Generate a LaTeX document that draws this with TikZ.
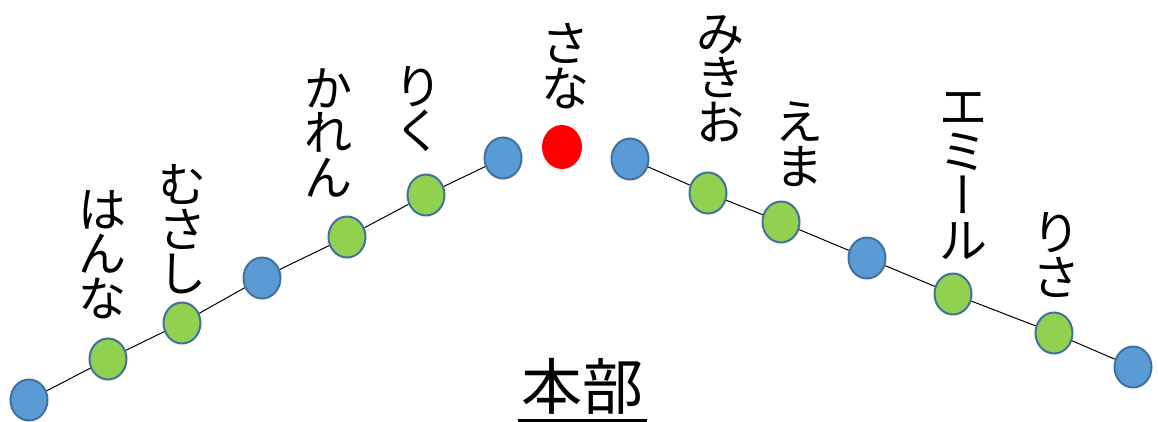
\documentclass[tikz,border=0pt]{standalone}
\usepackage{fontspec}
\usetikzlibrary{shapes.geometric}
\newfontfamily\jp{Noto Sans CJK JP}
\newfontfamily\jpvert{Noto Sans CJK JP}[RawFeature=+vert]
\definecolor{dotblue}{HTML}{5B9BD5}
\definecolor{dotgreen}{HTML}{92D050}
\definecolor{dotedge}{HTML}{41719C}
\definecolor{dotred}{HTML}{FF0000}
\newcommand{\vbar}{{\jpvert ー}}
\tikzset{
  dot/.style={ellipse, minimum width=37, minimum height=41, inner sep=0, draw=dotedge, line width=2},
  bdot/.style={dot, fill=dotblue},
  gdot/.style={dot, fill=dotgreen},
  rdot/.style={ellipse, minimum width=40, minimum height=44, inner sep=0, fill=dotred},
  track/.style={draw=black, line width=1},
  vlabel/.style={inner sep=0, align=center, font=\jp\fontsize{48}{44.5}\selectfont},
  hqlabel/.style={inner sep=0, font=\jp\fontsize{61}{61}\selectfont},
}
\begin{document}
\begin{tikzpicture}[x=1pt,y=-1pt]
\useasboundingbox (0,0) rectangle (1158,421);
% left line
\node[bdot] (L1) at (29,400) {};
\node[gdot] (L2) at (108,359) {};
\node[gdot] (L3) at (182,323) {};
\node[bdot] (L4) at (262,278) {};
\node[gdot] (L5) at (347,237) {};
\node[gdot] (L6) at (426,195) {};
\node[bdot] (L7) at (503,158) {};
% centre
\node[rdot] (C) at (562,147) {};
% right line
\node[bdot] (R1) at (630,159) {};
\node[gdot] (R2) at (708,193) {};
\node[gdot] (R3) at (781,222) {};
\node[bdot] (R4) at (867,258) {};
\node[gdot] (R5) at (953,294) {};
\node[gdot] (R6) at (1054,333) {};
\node[bdot] (R7) at (1133,367) {};
\draw[track] (L1) -- (L2) -- (L3) -- (L4) -- (L5) -- (L6) -- (L7);
\draw[track] (R1) -- (R2) -- (R3) -- (R4) -- (R5) -- (R6) -- (R7);
% labels
\node[vlabel] (t1) at (102,254.5) {は\\ん\\な};
\node[vlabel] (t2) at (182,229.5) {む\\さ\\し};
\node[vlabel] (t3) at (328,132.5) {か\\れ\\ん};
\node[vlabel] (t4) at (418,109) {り\\く};
\node[vlabel] (t5) at (565,66) {さ\\な};
\node[vlabel] (t6) at (720,78.5) {み\\き\\お};
\node[vlabel] (t7) at (799,144) {え\\ま};
\node[vlabel] (t8) at (963,176) {エ\\ミ\\\vbar\\ル};
\node[vlabel] (t9) at (1056,255) {り\\さ};
\node[hqlabel] (hq) at (582.5,386) {本部};
\draw[line width=2.5] ([xshift=-3.5pt,yshift=-6pt]hq.south west) -- ([xshift=3.5pt,yshift=-6pt]hq.south east);
\end{tikzpicture}
\end{document}
